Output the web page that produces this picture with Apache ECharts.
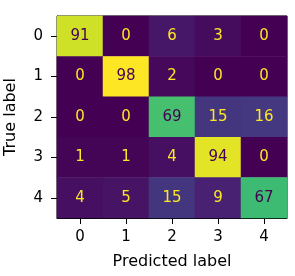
<!DOCTYPE html>
<html>
<head>
<meta charset="utf-8">
<script src="https://cdn.jsdelivr.net/npm/echarts@6/dist/echarts.min.js"></script>
<style>
html,body{margin:0;padding:0;background:#fff;}
#c{width:295px;height:276px;}
</style>
</head>
<body>
<div id="c"></div>
<script>
var predLabels = ['0','1','2','3','4'];
var trueLabels = ['0','1','2','3','4'];
var row0 = [91, 0, 6, 3, 0];
var row1 = [0, 98, 2, 0, 0];
var row2 = [0, 0, 69, 15, 16];
var row3 = [1, 1, 4, 94, 0];
var row4 = [4, 5, 15, 9, 67];
var rows = [row0, row1, row2, row3, row4];

var viridis = ['#440154','#482475','#414487','#355f8d','#2a788e','#21918c','#22a884','#44bf70','#7ad151','#bddf26','#fde725'];
var vmin = 0, vmax = 98;
var thresh = (vmin + vmax) / 2;

var data = [];
rows.forEach(function (r, i) {
  r.forEach(function (v, j) {
    data.push({
      value: [j, i, v],
      label: { color: v < thresh ? '#fde725' : '#440154' }
    });
  });
});

var font = 'DejaVu Sans';
var chart = echarts.init(document.getElementById('c'), null, {renderer: 'canvas'});
chart.setOption({
  animation: false,
  backgroundColor: '#fff',
  grid: { left: 57, top: 16, width: 230, height: 202, show: true, borderColor: '#000', borderWidth: 1, backgroundColor: 'transparent', containLabel: false, outerBoundsMode: 'none' },
  xAxis: {
    type: 'category', data: predLabels, position: 'bottom',
    name: 'Predicted label', nameLocation: 'middle', nameGap: 36,
    nameTextStyle: { fontFamily: font, fontSize: 16, color: '#000' },
    axisLine: { show: true, lineStyle: { color: '#000', width: 1 } },
    axisTick: { show: true, alignWithLabel: true, length: 6, lineStyle: { color: '#000' } },
    axisLabel: { fontFamily: font, fontSize: 15, color: '#000', margin: 12 },
    splitLine: { show: false }
  },
  yAxis: {
    type: 'category', data: trueLabels, inverse: true,
    name: 'True label', nameLocation: 'middle', nameGap: 38, nameRotate: 90,
    nameTextStyle: { fontFamily: font, fontSize: 16, color: '#000' },
    axisLine: { show: true, lineStyle: { color: '#000', width: 1 } },
    axisTick: { show: true, alignWithLabel: true, length: 6, lineStyle: { color: '#000' } },
    axisLabel: { fontFamily: font, fontSize: 15, color: '#000', margin: 14 },
    splitLine: { show: false }
  },
  visualMap: { show: false, min: vmin, max: vmax, dimension: 2, inRange: { color: viridis } },
  series: [{
    type: 'heatmap',
    data: data,
    label: { show: true, fontFamily: font, fontSize: 15, formatter: function (p) { return p.value[2]; } },
    itemStyle: { borderWidth: 0 },
    emphasis: { disabled: true }
  }]
});
</script>
</body>
</html>
